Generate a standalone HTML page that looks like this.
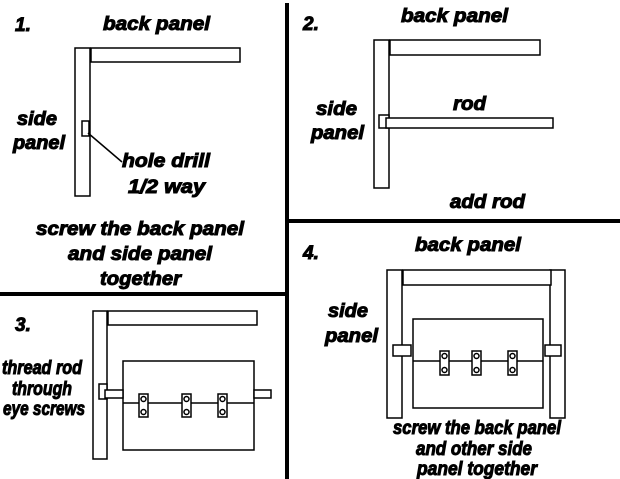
<!DOCTYPE html>
<html><head><style>body{margin:0;background:#fff}svg{display:block}
text{font-family:"Liberation Sans",sans-serif;font-weight:bold;font-style:italic;font-size:19px;fill:#000;stroke:#000;stroke-width:1}
</style></head><body>
<svg width="620" height="479" viewBox="0 0 620 479" xmlns="http://www.w3.org/2000/svg">
<g stroke="#000" fill="none">
<line x1="287" y1="3" x2="287" y2="479" stroke-width="4"/>
<line x1="0" y1="294" x2="287" y2="294" stroke-width="4"/>
<line x1="287" y1="221" x2="620" y2="221" stroke-width="4"/>
</g>
<g stroke="#000" fill="#fff" stroke-width="1.5">
<rect x="75" y="48" width="15" height="148"/>
<rect x="91" y="48" width="149" height="14"/>
<rect x="82" y="121" width="7" height="15"/>
<line x1="88" y1="133" x2="122" y2="162"/>
<rect x="374" y="40" width="15" height="148"/>
<rect x="390" y="40" width="150" height="15"/>
<rect x="379" y="115" width="10" height="13"/>
<rect x="386" y="118" width="167" height="10"/>
<rect x="93" y="311" width="14" height="148"/>
<rect x="108" y="311" width="149" height="14"/>
<rect x="123" y="361" width="131" height="89"/>
<rect x="99" y="384" width="8" height="15"/>
<rect x="105" y="390" width="18" height="8"/>
<rect x="254" y="390" width="17" height="8"/>
<line x1="123" y1="403" x2="254" y2="403"/>
<rect x="387" y="270" width="15" height="148"/>
<rect x="550" y="270" width="15" height="148"/>
<rect x="403" y="270" width="148" height="15"/>
<rect x="413" y="319" width="130" height="89"/>
<rect x="393" y="345" width="18" height="11"/>
<rect x="545" y="345" width="16" height="11"/>
<line x1="413" y1="361" x2="543" y2="361"/>
</g>
<g stroke="#000" stroke-width="1.5" fill="#fff">
<rect x="139" y="394" width="9" height="23"/><circle cx="143.5" cy="399" r="2.5"/><circle cx="143.5" cy="412" r="2.5"/>
<rect x="182" y="394" width="9" height="23"/><circle cx="186.5" cy="399" r="2.5"/><circle cx="186.5" cy="412" r="2.5"/>
<rect x="218" y="394" width="9" height="23"/><circle cx="222.5" cy="399" r="2.5"/><circle cx="222.5" cy="412" r="2.5"/>
<rect x="440" y="351" width="9" height="24"/><circle cx="444.5" cy="356" r="2.5"/><circle cx="444.5" cy="370" r="2.5"/>
<rect x="472" y="351" width="9" height="24"/><circle cx="476.5" cy="356" r="2.5"/><circle cx="476.5" cy="370" r="2.5"/>
<rect x="508" y="351" width="9" height="24"/><circle cx="512.5" cy="356" r="2.5"/><circle cx="512.5" cy="370" r="2.5"/>
</g>
<g lengthAdjust="spacingAndGlyphs">
<text x="15" y="31">1.</text>
<text x="103" y="30" textLength="107" lengthAdjust="spacingAndGlyphs">back panel</text>
<text x="17" y="125" textLength="40" lengthAdjust="spacingAndGlyphs">side</text>
<text x="13" y="149" textLength="52" lengthAdjust="spacingAndGlyphs">panel</text>
<text x="122" y="167" textLength="88" lengthAdjust="spacingAndGlyphs">hole drill</text>
<text x="128" y="193" textLength="77" lengthAdjust="spacingAndGlyphs">1/2 way</text>
<text x="36" y="235" textLength="208" lengthAdjust="spacingAndGlyphs">screw the back panel</text>
<text x="68" y="260" textLength="144" lengthAdjust="spacingAndGlyphs">and side panel</text>
<text x="100" y="285" textLength="81" lengthAdjust="spacingAndGlyphs">together</text>
<text x="303" y="30">2.</text>
<text x="401" y="22" textLength="107" lengthAdjust="spacingAndGlyphs">back panel</text>
<text x="453" y="110" textLength="33" lengthAdjust="spacingAndGlyphs">rod</text>
<text x="316" y="115" textLength="41" lengthAdjust="spacingAndGlyphs">side</text>
<text x="311" y="139" textLength="53" lengthAdjust="spacingAndGlyphs">panel</text>
<text x="450" y="208" textLength="75" lengthAdjust="spacingAndGlyphs">add rod</text>
<text x="15" y="331">3.</text>
<text x="2" y="374" textLength="80" lengthAdjust="spacingAndGlyphs">thread rod</text>
<text x="12" y="395" textLength="60" lengthAdjust="spacingAndGlyphs">through</text>
<text x="3" y="415" textLength="82" lengthAdjust="spacingAndGlyphs">eye screws</text>
<text x="303" y="259">4.</text>
<text x="415" y="251" textLength="106" lengthAdjust="spacingAndGlyphs">back panel</text>
<text x="328" y="317" textLength="40" lengthAdjust="spacingAndGlyphs">side</text>
<text x="325" y="342" textLength="53" lengthAdjust="spacingAndGlyphs">panel</text>
<text x="393" y="434" textLength="168" lengthAdjust="spacingAndGlyphs">screw the back panel</text>
<text x="416" y="455" textLength="116" lengthAdjust="spacingAndGlyphs">and other side</text>
<text x="417" y="475" textLength="120" lengthAdjust="spacingAndGlyphs">panel together</text>
</g>
</svg>
</body></html>
